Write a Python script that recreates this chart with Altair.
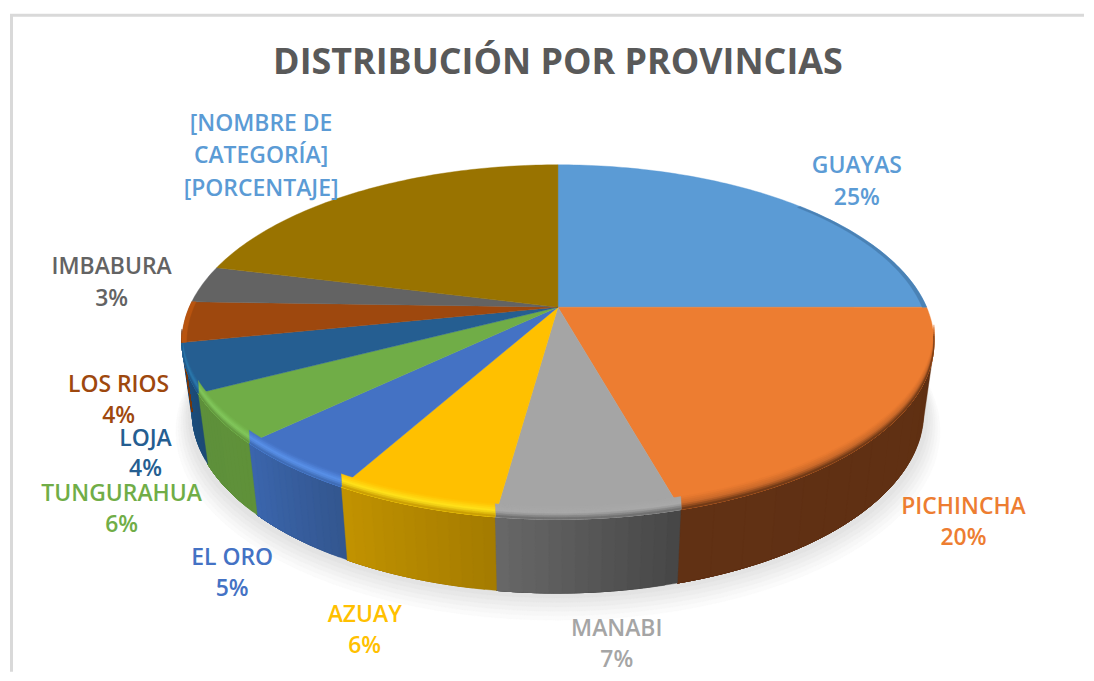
import math
import altair as alt

W, H = 1078, 665
FONT = "Open Sans"

# chart values
categories = ["GUAYAS", "PICHINCHA", "MANABI", "AZUAY", "EL ORO", "TUNGURAHUA",
              "LOJA", "LOS RIOS", "IMBABURA", "[NOMBRE DE CATEGORÍA]"]
shares = [25.0, 20.65, 6.55, 5.9, 4.8, 4.5, 4.4, 3.7, 3.4, 21.1]
percent_text = ["25%", "20%", "7%", "6%", "5%", "6%", "4%", "4%", "3%", "[PORCENTAJE]"]

# colours
top_colors = ["#5b9bd5", "#ed7d31", "#a5a5a5", "#ffc000", "#4472c4", "#70ad47",
              "#255e91", "#9e480e", "#636363", "#997300"]
label_colors = ["#5b9bd5", "#ed7d31", "#a5a5a5", "#ffc000", "#4472c4", "#70ad47",
                "#255e91", "#9e480e", "#636363", "#5b9bd5"]
glow_colors = ["#5b9bd5", "#c9692a", "#a9a9a9", "#ffe31c", "#5a92ea", "#82c95c",
               "#2a7bb0", "#b8540f", "#636363", "#997300"]
side_left = ["#3f6f9b", "#613114", "#686868", "#c29300", "#3b66ad", "#5e903b",
             "#1e5180", "#7a380a", "#4a4a4a", "#6f5400"]
side_right = ["#3f6f9b", "#5f2f12", "#464646", "#a47b00", "#33568f", "#5f9139",
              "#1c4a75", "#7a380a", "#4a4a4a", "#6f5400"]

# label anchors in page pixels (centre x, first line y, second line y)
label_pos = [(858, 165, 197), (965, 508, 539), (617, 630, 661), (364, 616, 647),
             (231, 559, 590), (120, 495, 526), (144, 439, 470), (117, 385, 416),
             (110, 267, 299)]

# perspective of the disc, in page pixels
CX, CY, RX, RY, K = 558, 307, 370, 171, 0.197
BX, BY, BY0 = 360, 175, 376
VIS_A, VIS_B = 100.0, 258.7
BEVEL = 13.0


def top_pt(deg, s=1.0, up=0.0):
    t = math.radians(deg)
    X, Y = s * math.sin(t), s * math.cos(t)
    d = 1 + K * Y
    return [CX + RX * X / d - 8, CY - RY * Y / d - up - 8]


def bot_pt(deg):
    t = math.radians(deg)
    X, Y = math.sin(t), math.cos(t)
    d = 1 + K * Y
    return [CX + BX * X / d - 8, BY0 - BY * Y / d - 8]


def rgb(h):
    return [int(h[i:i + 2], 16) for i in (1, 3, 5)]


def mix(a, b, f):
    return "#%02x%02x%02x" % tuple(round(p + (q - p) * f) for p, q in zip(rgb(a), rgb(b)))


def span(a, b, step=1.0):
    n = max(2, int(abs(b - a) / step) + 1)
    return [a + (b - a) * i / (n - 1) for i in range(n)]


features = []


def poly(ring, color):
    ring = list(ring) + [ring[0]]
    features.append({"type": "Feature",
                     "geometry": {"type": "Polygon", "coordinates": [ring]},
                     "properties": {"c": color}})


# soft shadow under the disc
for i, col in enumerate(["#fbfbfb", "#f7f7f7", "#f2f2f2", "#ededed", "#e8e8e8", "#e3e3e3"]):
    g = 5 - i
    ring = []
    for d in span(0, 360, 3):
        t = math.radians(d)
        X, Y = math.sin(t), math.cos(t)
        q = 1 + K * Y
        ring.append([CX + (BX + 4 + 2.4 * g) * X / q - 8,
                     BY0 + 5 + 2.6 * g - (BY + 1.5 * g) * Y / q - 8])
    poly(ring, col)

edges = [0.0]
for v in shares:
    edges.append(edges[-1] + v * 3.6)

# outer wall: painted over itself towards the slice end, so the shading has no seams
for i in range(len(shares)):
    a, b = max(edges[i], VIS_A), min(edges[i + 1], VIS_B)
    if a >= b:
        continue
    n = 14
    for j in range(n):
        s0 = a + (b - a) * j / n
        f = 1 - (j + 0.5) / n   # f=1 at the right end of the slice on screen
        col = mix(side_left[i], side_right[i], f)
        arc = span(s0, b, 1.0)
        poly([top_pt(d) for d in arc] + [bot_pt(d) for d in reversed(arc)], col)

# flat top of every slice
for i in range(len(shares)):
    arc = span(edges[i], edges[i + 1], 1.0)
    poly([top_pt(0, 0.0)] + [top_pt(d) for d in arc], top_colors[i])

# rounded bevel along the visible rim
N_BAND = 7
for i in range(len(shares)):
    a, b = max(edges[i], VIS_A), min(edges[i + 1], VIS_B)
    if a >= b:
        continue
    arc = span(a, b, 1.0)
    for j in range(N_BAND):
        u0 = BEVEL * (1 - j / N_BAND)
        f = (j + 0.5) / N_BAND
        if f < 0.55:
            col = mix(top_colors[i], glow_colors[i], f / 0.55)
        else:
            col = mix(glow_colors[i], side_left[i], (f - 0.55) / 0.45)
        poly([top_pt(d, up=u0) for d in arc] + [top_pt(d) for d in reversed(arc)], col)

# thin lit edge on the slices that turn away at the sides
for i, (lo, hi, col) in enumerate([(edges[0] + 48, edges[1], "#4a82b5"),
                                   (edges[7], edges[8], "#b8540f")]):
    arc = span(lo, hi, 1.0)
    poly([top_pt(d, 0.988) for d in arc] + [top_pt(d) for d in reversed(arc)], col)

shapes = (alt.Chart(alt.Data(values=features))
          .mark_geoshape(strokeWidth=0.4)
          .encode(fill=alt.Fill("properties.c:N", scale=None),
                  stroke=alt.Stroke("properties.c:N", scale=None))
          .project(type="identity", scale=1, translate=[0, 0]))

rows = []
for i, (x, y1, y2) in enumerate(label_pos):
    rows.append({"x": x - 8, "y": y1 - 8, "t": categories[i], "c": label_colors[i]})
    rows.append({"x": x - 8, "y": y2 - 8, "t": percent_text[i], "c": label_colors[i]})
rows.append({"x": 260 - 8, "y": 123 - 8, "t": "[NOMBRE DE", "c": label_colors[9]})
rows.append({"x": 260 - 8, "y": 155 - 8, "t": "CATEGORÍA]", "c": label_colors[9]})
rows.append({"x": 260 - 8, "y": 188 - 8, "t": percent_text[9], "c": label_colors[9]})

xs = alt.Scale(domain=[0, W], range=[0, W])
ys = alt.Scale(domain=[0, H], range=[0, H])
labels = (alt.Chart(alt.Data(values=rows))
          .mark_text(font=FONT, fontSize=23, fontWeight=600, align="center", baseline="middle")
          .encode(x=alt.X("x:Q", scale=xs, axis=None),
                  y=alt.Y("y:Q", scale=ys, axis=None),
                  text="t:N",
                  color=alt.Color("c:N", scale=None)))

title = (alt.Chart(alt.Data(values=[{"x": 558 - 8, "y": 62 - 8, "t": "DISTRIBUCIÓN POR PROVINCIAS"}]))
         .mark_text(font=FONT, fontSize=36, fontWeight="bold", align="center", baseline="middle",
                    color="#595959")
         .encode(x=alt.X("x:Q", scale=xs, axis=None),
                 y=alt.Y("y:Q", scale=ys, axis=None),
                 text="t:N"))

frame_data = alt.Data(values=[{"k": 1}])
frame_l = alt.Chart(frame_data).mark_rule(color="#d9d9d9", strokeWidth=3).encode(
    x=alt.value(1.5), y=alt.value(5), y2=alt.value(H))
frame_t = alt.Chart(frame_data).mark_rule(color="#d9d9d9", strokeWidth=3).encode(
    x=alt.value(0), x2=alt.value(W), y=alt.value(6))

chart = (alt.layer(frame_l, frame_t, shapes, labels, title)
         .properties(width=W, height=H, padding=0, background="#ffffff")
         .configure_view(stroke=None))

chart.save("out.html", embed_options={"renderer": "svg", "actions": False})
